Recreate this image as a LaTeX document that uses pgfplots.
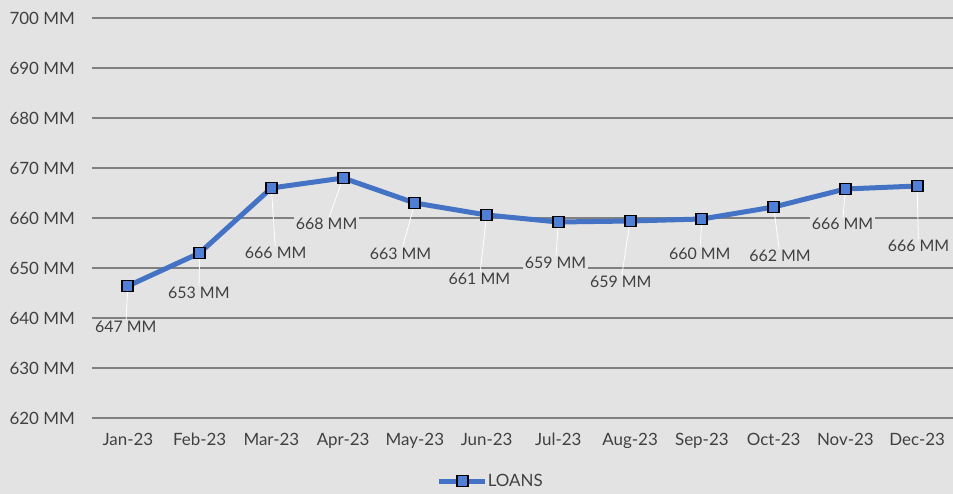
\documentclass[border=0pt]{standalone}
\usepackage{pgfplots}
\pgfplotsset{compat=1.18}
\usepackage{fontspec}
\setmainfont{Lato}
\definecolor{bgc}{HTML}{E3E3E3}
\definecolor{gridc}{HTML}{808080}
\definecolor{linec}{HTML}{4472C4}
\definecolor{markc}{HTML}{4F7FD6}
\definecolor{txtc}{HTML}{404040}
\begin{document}
\begin{tikzpicture}
\useasboundingbox (-92bp,-76bp) rectangle (861bp,418bp);
\fill[bgc] (-92bp,-76bp) rectangle (861bp,418bp);
\begin{axis}[
  at={(0,0)}, anchor=south west,
  scale only axis, width=861bp, height=400bp,
  xmin=-0.5, xmax=11.5, ymin=620, ymax=700,
  axis line style={draw=none},
  major tick length=0pt,
  ytick={620,630,...,700},
  ymajorgrids, grid style={gridc, line width=1.3bp},
  yticklabel={\pgfmathparse{int(\tick)}\pgfmathresult\ MM},
  xtick={0,...,11},
  xticklabels={Jan-23,Feb-23,Mar-23,Apr-23,May-23,Jun-23,Jul-23,Aug-23,Sep-23,Oct-23,Nov-23,Dec-23},
  ticklabel style={font=\fontsize{17}{20}\selectfont, text=txtc, inner sep=0pt},
  yticklabel style={xshift=-17bp},
  xticklabel style={yshift=-15bp},
  legend style={at={(0.462,-0.1575)}, anchor=center, draw=none, fill=none,
    font=\fontsize{17}{20}\selectfont, text=txtc, inner sep=0pt,
    nodes={inner sep=0pt}},
  legend image code/.code={\draw[mark repeat=2, mark phase=2, #1] plot coordinates {(0bp,0bp) (23bp,0bp) (46bp,0bp)};},
]
% leader lines
\addplot[white, line width=0.8bp, forget plot, unbounded coords=jump] coordinates {
 (0,646.4) (-0.03,638.2) (0,nan)
 (1,653) (0.99,645) (1,nan)
 (2,666) (2.06,653) (2,nan)
 (3,668) (2.77,658.8) (3,nan)
 (4,663) (3.80,652.8) (4,nan)
 (5,660.6) (4.90,647.8) (5,nan)
 (6,659.2) (5.96,651) (6,nan)
 (7,659.4) (6.87,647.2) (7,nan)
 (8,659.8) (7.97,652.8) (8,nan)
 (9,662.2) (9.09,652.4) (9,nan)
 (10,665.8) (9.96,658.8) (10,nan)
 (11,666.4) (11.02,654.4)
};
% data labels
\addplot[draw=none, mark=none, forget plot, nodes near coords={\pgfplotspointmeta\ MM},
  point meta=explicit symbolic,
  every node near coord/.append style={anchor=center, fill=bgc, inner sep=1.5bp,
    font=\fontsize{16}{19}\selectfont, text=txtc}]
 table[meta=lab] {
x y lab
-0.03 638.2 647
0.99 645 653
2.06 653 666
2.77 658.8 668
3.80 652.8 663
4.90 647.8 661
5.96 651 659
6.87 647.2 659
7.97 652.8 660
9.09 652.4 662
9.96 658.8 666
11.02 654.4 666
};
% main series
\addplot[linec, line width=5bp, mark=square*, mark size=5.5bp,
  mark options={fill=markc, draw=black, line width=1.8bp, solid}] coordinates {
 (0,646.4) (1,653) (2,666) (3,668) (4,663) (5,660.6)
 (6,659.2) (7,659.4) (8,659.8) (9,662.2) (10,665.8) (11,666.4)
};
\addlegendentry{LOANS}
\end{axis}
\end{tikzpicture}
\end{document}
